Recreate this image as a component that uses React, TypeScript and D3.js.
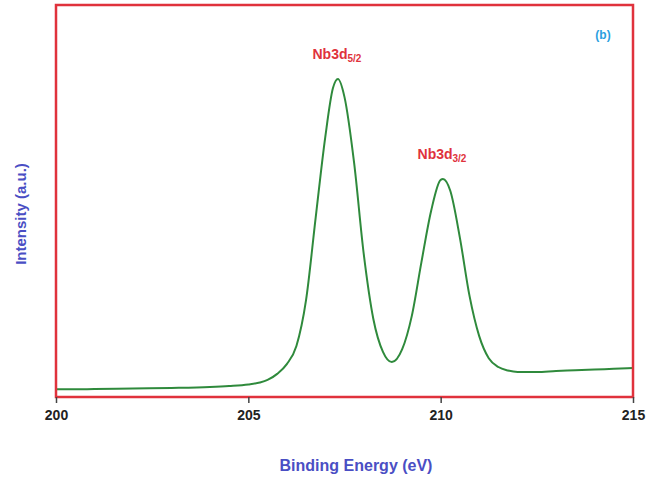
import React, { useEffect, useRef } from "react";
import * as d3 from "d3";

const energies = [
  200.0, 200.5, 201.0, 202.0, 203.0, 204.0, 204.5, 205.0, 205.3, 205.5, 205.75,
  206.0, 206.25, 206.5, 206.75, 207.0, 207.2, 207.33, 207.5, 207.75, 208.0,
  208.25, 208.5, 208.73, 209.0, 209.25, 209.5, 209.75, 210.0, 210.06, 210.25,
  210.5, 210.75, 211.0, 211.25, 211.5, 211.75, 212.0, 212.5, 213.0, 213.5, 214.0,
  214.5, 215.0,
];
const intensities = [
  2.0, 1.95, 2.05, 2.15, 2.3, 2.55, 2.8, 3.2, 3.7, 4.35, 5.9,
  8.4, 13.0, 24.7, 45.7, 66.3, 78.8, 81.1, 76.5, 59.7, 36.5,
  19.9, 11.5, 8.9, 12.2, 20.7, 34.4, 47.4, 55.4, 55.6, 52.6,
  40.6, 25.8, 15.6, 9.9, 7.65, 6.76, 6.38, 6.38, 6.63, 6.8, 7.0,
  7.2, 7.4,
];
const xTicks = [200, 205, 210, 215];
const peakLabels = [
  { main: "Nb3d", sub: "5/2", e: 207.33, v: 81.1 },
  { main: "Nb3d", sub: "3/2", e: 210.06, v: 55.6 },
];

export default function App() {
  const ref = useRef<SVGSVGElement>(null);
  useEffect(() => {
    const svg = d3.select(ref.current);
    svg.selectAll("*").remove();
    const left = 56, right = 633, top = 5, bottom = 397;
    const x = d3.scaleLinear().domain([200, 215]).range([left, right]);
    const y = d3.scaleLinear().domain([0, 100]).range([bottom, top]);
    const font = "'Liberation Sans', Arial, sans-serif";

    const data = energies.map((e, i) => [e, intensities[i]] as [number, number]);
    const line = d3
      .line<[number, number]>()
      .x((d) => x(d[0]))
      .y((d) => y(d[1]))
      .curve(d3.curveMonotoneX);

    svg
      .append("path")
      .datum(data)
      .attr("d", line)
      .attr("fill", "none")
      .attr("stroke", "#2f8a3c")
      .attr("stroke-width", 2);

    // frame
    svg
      .append("rect")
      .attr("x", left)
      .attr("y", top)
      .attr("width", right - left)
      .attr("height", bottom - top)
      .attr("fill", "none")
      .attr("stroke", "#e0323c")
      .attr("stroke-width", 2.5);

    // x axis
    const axis = d3
      .axisBottom(x)
      .tickValues(xTicks)
      .tickSize(6)
      .tickFormat((d) => String(d));
    const g = svg.append("g").attr("transform", `translate(0,${bottom})`).call(axis);
    g.select(".domain").remove();
    g.selectAll(".tick line").attr("stroke", "#444").attr("stroke-width", 1.5);
    g.selectAll(".tick text")
      .attr("fill", "#222")
      .attr("font-family", font)
      .attr("font-weight", "bold")
      .attr("font-size", 14)
      .attr("dy", "1.0em");

    svg
      .append("text")
      .attr("x", 356)
      .attr("y", 471)
      .attr("text-anchor", "middle")
      .attr("font-family", font)
      .attr("font-weight", "bold")
      .attr("font-size", 16)
      .attr("fill", "#4a4ec4")
      .text("Binding Energy (eV)");

    svg
      .append("text")
      .attr("transform", `translate(26,214) rotate(-90)`)
      .attr("text-anchor", "middle")
      .attr("font-family", font)
      .attr("font-weight", "bold")
      .attr("font-size", 15)
      .attr("fill", "#4a4ec4")
      .text("Intensity (a.u.)");

    peakLabels.forEach((p) => {
      const t = svg
        .append("text")
        .attr("x", x(p.e) - 1)
        .attr("y", y(p.v) - 20)
        .attr("text-anchor", "middle")
        .attr("font-family", font)
        .attr("font-weight", "bold")
        .attr("font-size", 14)
        .attr("fill", "#e0323c");
      t.append("tspan").text(p.main);
      t.append("tspan").attr("font-size", 10).attr("dy", 3).text(p.sub);
    });

    svg
      .append("text")
      .attr("x", 603)
      .attr("y", 39)
      .attr("text-anchor", "middle")
      .attr("font-family", font)
      .attr("font-weight", "bold")
      .attr("font-size", 12)
      .attr("fill", "#2a9fe0")
      .text("(b)");
  }, []);

  return (
    <svg
      ref={ref}
      width={646}
      height={480}
      style={{ position: "absolute", left: 0, top: 0, background: "#fff" }}
    />
  );
}
